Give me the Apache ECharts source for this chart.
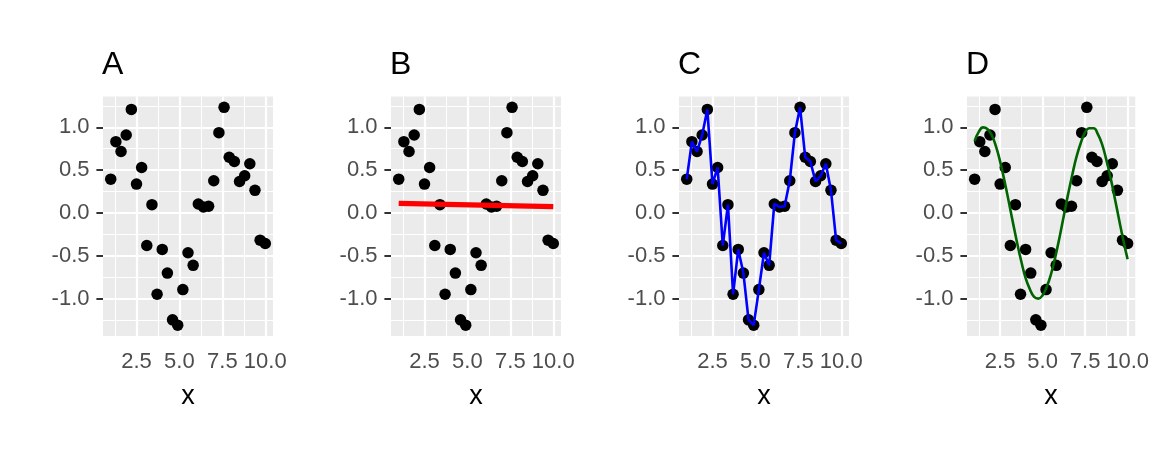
<!DOCTYPE html>
<html>
<head>
<meta charset="utf-8">
<script src="https://cdn.jsdelivr.net/npm/echarts@6/dist/echarts.min.js"></script>
<style>
html,body{margin:0;padding:0;background:#fff;}
#chart{width:1152px;height:460px;}
</style>
</head>
<body>
<div id="chart"></div>
<script>
// ---- data ----
const panelTitles = ['A', 'B', 'C', 'D'];
const xs = [1.0,1.3,1.6,1.9,2.2,2.5,2.8,3.1,3.4,3.7,4.0,4.3,4.6,4.9,5.2,5.5,5.8,6.1,6.4,6.7,7.0,7.3,7.6,7.9,8.2,8.5,8.8,9.1,9.4,9.7,10.0];
const ys = [0.395,0.833,0.717,0.911,1.209,0.337,0.531,-0.380,0.097,-0.950,-0.426,-0.702,-1.248,-1.310,-0.895,-0.465,-0.612,0.105,0.070,0.078,0.376,0.938,1.233,0.651,0.601,0.368,0.434,0.574,0.264,-0.318,-0.357];
// panel B: straight fitted line
const fitX = [1, 10];
const fitY = [0.113, 0.074];
// panel D: smooth curve
const curveX = [1.00,1.25,1.50,1.75,2.00,2.25,2.50,2.75,3.00,3.25,3.50,3.75,4.00,4.25,4.50,4.75,5.00,5.25,5.50,5.75,6.00,6.25,6.50,6.75,7.00,7.25,7.50,7.75,8.00,8.25,8.50,8.75,9.00,9.25,9.50,9.75,10.00];
const curveY = [0.84,0.95,1.00,0.98,0.91,0.78,0.60,0.38,0.14,-0.11,-0.35,-0.57,-0.76,-0.89,-0.98,-1.00,-0.96,-0.86,-0.71,-0.51,-0.28,-0.03,0.22,0.45,0.66,0.82,0.94,0.99,0.99,0.92,0.80,0.62,0.41,0.17,-0.08,-0.32,-0.54];
// ticks / breaks
const xTicks = [2.5, 5.0, 7.5, 10.0];
const xMinor = [1.25, 3.75, 6.25, 8.75];
const yTicks = [-1.0, -0.5, 0.0, 0.5, 1.0];
const yMinor = [-1.25, -0.75, -0.25, 0.25, 0.75, 1.25];
const xRange = [0.55, 10.45];
const yRange = [-1.437, 1.360];

// ---- layout ----
const FONT = '"Liberation Sans", Arial, Helvetica, sans-serif';
const plotLeft0 = 103, panelStep = 288, plotW = 170, plotTop = 96.5, plotH = 239.5;

const chart = echarts.init(document.getElementById('chart'), null, {renderer: 'canvas'});

const titles = [], grids = [], xAxes = [], yAxes = [], series = [];
const pts = xs.map((x, j) => [x, ys[j]]);

panelTitles.forEach((t, i) => {
  const left = plotLeft0 + panelStep * i;
  titles.push({
    text: t, left: left - 1, top: 49, padding: 0,
    textStyle: {fontSize: 32, fontWeight: 'normal', color: '#000', fontFamily: FONT}
  });
  grids.push({left: left, top: plotTop, width: plotW, height: plotH,
    show: true, backgroundColor: '#EBEBEB', borderWidth: 0, containLabel: false});
  xAxes.push({
    type: 'value', gridIndex: i, min: xRange[0], max: xRange[1],
    axisLine: {show: false},
    splitLine: {show: false},
    axisTick: {show: true, customValues: xTicks, length: 6.6, lineStyle: {color: '#333333', width: 2}},
    axisLabel: {show: true, customValues: xTicks, margin: 15, color: '#4D4D4D', fontSize: 22, fontFamily: FONT,
      formatter: v => v.toFixed(1)},
    name: 'x', nameLocation: 'middle', nameGap: 47,
    nameTextStyle: {fontSize: 27, color: '#000', fontFamily: FONT}
  });
  yAxes.push({
    type: 'value', gridIndex: i, min: yRange[0], max: yRange[1],
    axisLine: {show: false},
    splitLine: {show: false},
    axisTick: {show: true, customValues: yTicks, length: 6.6, lineStyle: {color: '#333333', width: 2}},
    axisLabel: {show: true, customValues: yTicks, margin: 13.5, color: '#4D4D4D', fontSize: 22, fontFamily: FONT,
      formatter: v => v.toFixed(1)}
  });
  const ml = [];
  xMinor.forEach(v => ml.push({xAxis: v, lineStyle: {color: '#ffffff', width: 1.1, type: 'solid', opacity: 1}}));
  yMinor.forEach(v => ml.push({yAxis: v, lineStyle: {color: '#ffffff', width: 1.1, type: 'solid', opacity: 1}}));
  xTicks.forEach(v => ml.push({xAxis: v, lineStyle: {color: '#ffffff', width: 2.2, type: 'solid', opacity: 1}}));
  yTicks.forEach(v => ml.push({yAxis: v, lineStyle: {color: '#ffffff', width: 2.2, type: 'solid', opacity: 1}}));
  series.push({
    type: 'scatter', xAxisIndex: i, yAxisIndex: i, data: pts, z: 2,
    symbolSize: 0, itemStyle: {opacity: 0}, silent: true,
    markLine: {z: 2, silent: true, symbol: ['none', 'none'], label: {show: false}, animation: false,
      lineStyle: {color: '#ffffff', opacity: 1}, emphasis: {disabled: true}, data: ml}
  });
  series.push({
    type: 'scatter', xAxisIndex: i, yAxisIndex: i, data: pts, z: 3,
    symbolSize: 11.5, itemStyle: {color: '#000', opacity: 1}
  });
  if (t === 'B') {
    series.push({type: 'line', xAxisIndex: i, yAxisIndex: i, z: 4, symbol: 'none',
      data: fitX.map((x, j) => [x, fitY[j]]), lineStyle: {color: '#FF0000', width: 5.3}});
  } else if (t === 'C') {
    series.push({type: 'line', xAxisIndex: i, yAxisIndex: i, z: 4, symbol: 'none',
      data: pts, lineStyle: {color: '#0000FF', width: 2.6}});
  } else if (t === 'D') {
    series.push({type: 'line', xAxisIndex: i, yAxisIndex: i, z: 4, symbol: 'none', smooth: true,
      data: curveX.map((x, j) => [x, curveY[j]]), lineStyle: {color: '#006400', width: 2.6}});
  }
});

chart.setOption({
  animation: false,
  backgroundColor: '#ffffff',
  textStyle: {fontFamily: FONT},
  title: titles,
  grid: grids,
  xAxis: xAxes,
  yAxis: yAxes,
  series: series
});
</script>
</body>
</html>
